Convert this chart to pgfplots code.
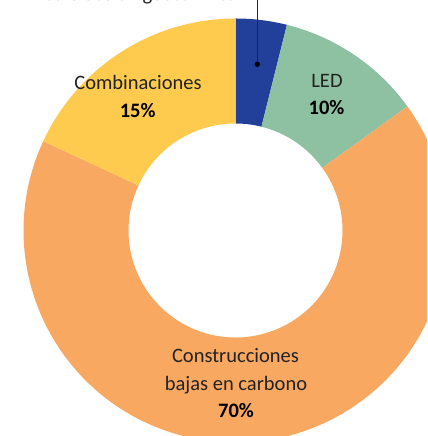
\documentclass[border=0pt]{standalone}
\usepackage{pgfplots}
\usepackage{pgfplotstable}
\pgfplotsset{compat=1.18}
\usepackage{fontspec}
\setmainfont{Carlito}
\definecolor{c0}{HTML}{223F99}
\definecolor{c1}{HTML}{8EC1A1}
\definecolor{c2}{HTML}{F9A862}
\definecolor{c3}{HTML}{FECB4F}
\definecolor{txt}{HTML}{222222}
% share of each segment, clockwise from the top
\pgfplotstableread{
name value
Geotermica 3.9
LED 11.15
Construcciones 66.87
Combinaciones 18.08
}\datatable
\newcommand{\lab}{\fontsize{20.5bp}{24bp}\selectfont}
\begin{document}
\begin{tikzpicture}
\begin{axis}[x=1bp, y=1bp, xmin=-235.5, xmax=191.5, ymin=-205.5, ymax=230.5,
  hide axis, clip=true]
\def\cum{90}
\pgfplotsforeachungrouped \i in {0,...,3}{%
  \pgfplotstablegetelem{\i}{value}\of\datatable
  \pgfmathsetmacro\start{\cum}%
  \pgfmathsetmacro\stop{\cum-3.6*\pgfplotsretval}%
  \edef\temp{\noexpand\fill[c\i] (axis cs:{212*cos(\start)},{212*sin(\start)}) arc[start angle=\start, end angle=\stop, radius=212bp] -- (axis cs:{107*cos(\stop)},{107*sin(\stop)}) arc[start angle=\stop, end angle=\start, radius=107bp] -- cycle;}%
  \temp
  \let\cum\stop
}
\draw[black!85, line width=1.4bp] (axis cs:21.8,166.2) -- (axis cs:21.8,240);
\fill[black] (axis cs:21.8,166.2) circle[radius=2.7bp];
\node[anchor=base, text=txt, font=\lab] at (axis cs:-95.5,229.5) {Calefacción geotérmica};
\node[anchor=base, text=txt, font=\lab] at (axis cs:-97.5,140.5) {Combinaciones};
\node[anchor=base, font=\lab\bfseries] at (axis cs:-97.8,112.8) {15\%};
\node[anchor=base, text=txt, font=\lab] at (axis cs:91.5,142.8) {LED};
\node[anchor=base, font=\lab\bfseries] at (axis cs:91,115.5) {10\%};
\node[anchor=base, text=txt, font=\lab] at (axis cs:0,-132.5) {Construcciones};
\node[anchor=base, text=txt, font=\lab] at (axis cs:0.5,-160.5) {bajas en carbono};
\node[anchor=base, font=\lab\bfseries] at (axis cs:0.5,-187.5) {70\%};
\end{axis}
\pgfresetboundingbox
\path[use as bounding box] (current axis.south west) rectangle (current axis.north east);
\end{tikzpicture}
\end{document}
